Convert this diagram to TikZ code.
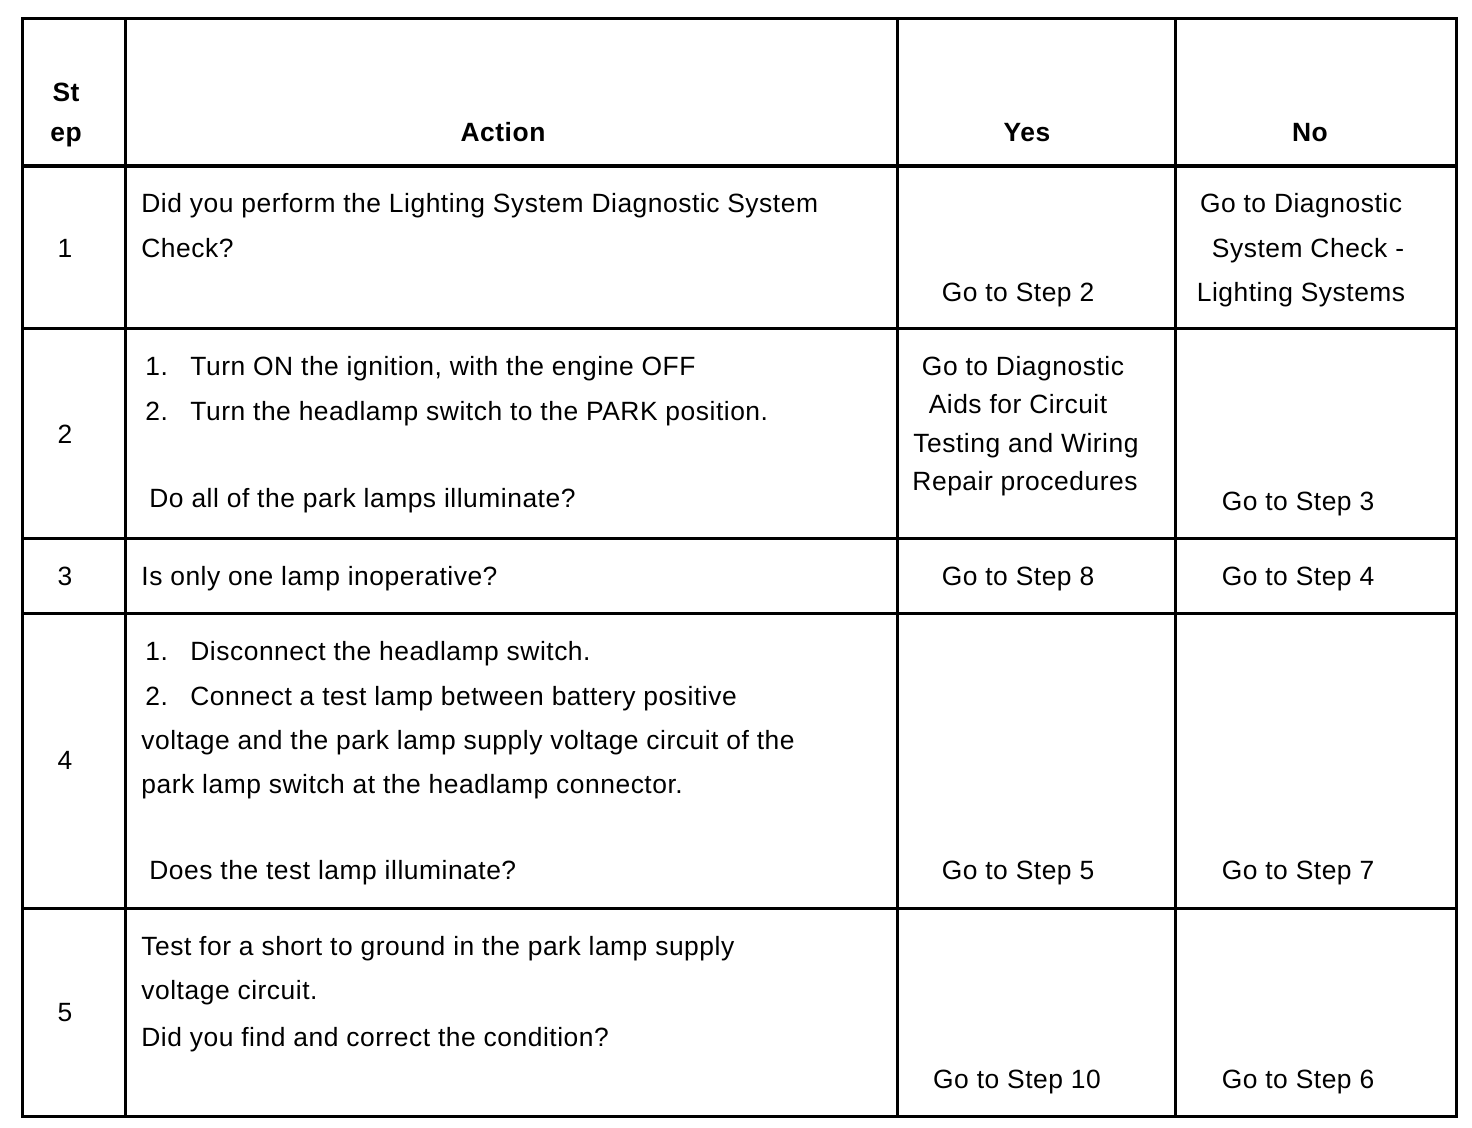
\documentclass[tikz,border=0pt]{standalone}
\usepackage{fontspec}
\setmainfont{Liberation Sans}[LetterSpace=2]
\newcommand{\itm}[1]{\makebox[22.5pt][l]{#1}}
\begin{document}
\begin{tikzpicture}[x=0.5pt,y=-0.5pt,
  rule/.style={draw=black,line width=1.5pt},
  txt/.style={anchor=base west,inner sep=0pt,font=\fontsize{13.2}{15}\selectfont},
  mid/.style={anchor=base,inner sep=0pt,font=\fontsize{13.2}{15}\selectfont},
  hd/.style={mid,font=\fontsize{13.2}{15}\selectfont\bfseries}]
\useasboundingbox (0,0) rectangle (1472,1128);
\draw[rule] (22,19) rectangle (1456,1116);
\draw[rule,line width=2pt] (22,166) -- (1456,166);
\draw[rule] (22,329) -- (1456,329);
\draw[rule] (22,538) -- (1456,538);
\draw[rule] (22,613) -- (1456,613);
\draw[rule] (22,908) -- (1456,908);
\draw[rule] (125,19) -- (125,1116);
\draw[rule] (897,19) -- (897,1116);
\draw[rule] (1175,19) -- (1175,1116);
% header
\node[hd] (hstep) at (66,102) {St};
\node[hd] (hstepb) at (66,142) {ep};
\node[hd] (haction) at (503,142) {Action};
\node[hd] (hyes) at (1027,142) {Yes};
\node[hd] (hno) at (1310,142) {No};
% step 1
\node[mid] (s1) at (65,258) {1};
\node[txt] (a1a) at (141,213) {Did you perform the Lighting System Diagnostic System};
\node[txt] (a1b) at (141,258) {Check?};
\node[mid] (y1) at (1018,302) {Go to Step 2};
\node[mid] (n1a) at (1301,213) {Go to Diagnostic};
\node[mid] (n1b) at (1308,258) {System Check -};
\node[mid] (n1c) at (1301,302) {Lighting Systems};
% step 2
\node[mid] (s2) at (65,444) {2};
\node[txt] (a2a) at (145,376) {\itm{1.}Turn ON the ignition, with the engine OFF};
\node[txt] (a2b) at (145,421) {\itm{2.}Turn the headlamp switch to the PARK position.};
\node[txt] (a2c) at (149,507) {Do all of the park lamps illuminate?};
\node[mid] (y2a) at (1023,376) {Go to Diagnostic};
\node[mid] (y2b) at (1018,414) {Aids for Circuit};
\node[mid] (y2c) at (1026,452) {Testing and Wiring};
\node[mid] (y2d) at (1025,490) {Repair procedures};
\node[mid] (n2) at (1298,510) {Go to Step 3};
% step 3
\node[mid] (s3) at (65,585) {3};
\node[txt] (a3) at (141,585) {Is only one lamp inoperative?};
\node[mid] (y3) at (1018,585) {Go to Step 8};
\node[mid] (n3) at (1298,585) {Go to Step 4};
% step 4
\node[mid] (s4) at (65,769) {4};
\node[txt] (a4a) at (145,660) {\itm{1.}Disconnect the headlamp switch.};
\node[txt] (a4b) at (145,705) {\itm{2.}Connect a test lamp between battery positive};
\node[txt] (a4c) at (141,749) {voltage and the park lamp supply voltage circuit of the};
\node[txt] (a4d) at (141,793) {park lamp switch at the headlamp connector.};
\node[txt] (a4e) at (149,879) {Does the test lamp illuminate?};
\node[mid] (y4) at (1018,879) {Go to Step 5};
\node[mid] (n4) at (1298,879) {Go to Step 7};
% step 5
\node[mid] (s5) at (65,1021) {5};
\node[txt] (a5a) at (141,955) {Test for a short to ground in the park lamp supply};
\node[txt] (a5b) at (141,999) {voltage circuit.};
\node[txt] (a5c) at (141,1046) {Did you find and correct the condition?};
\node[mid] (y5) at (1017,1088) {Go to Step 10};
\node[mid] (n5) at (1298,1088) {Go to Step 6};
\end{tikzpicture}
\end{document}
